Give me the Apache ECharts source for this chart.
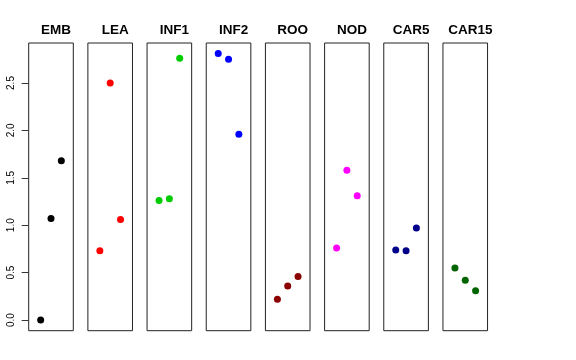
<!DOCTYPE html>
<html><head><meta charset="utf-8">
<script src="https://cdn.jsdelivr.net/npm/echarts@6/dist/echarts.min.js"></script>
<style>html,body{margin:0;padding:0;background:#fff}#c{width:576px;height:360px}</style>
</head><body><div id="c"></div>
<script>
var panels = ['EMB','LEA','INF1','INF2','ROO','NOD','CAR5','CAR15'];
var colors = ['#000000','#FF0000','#00CD00','#0000FF','#8B0000','#FF00FF','#00008B','#006400'];
var EMB = [0, 1.07, 1.68];
var LEA = [0.73, 2.50, 1.06];
var INF1 = [1.26, 1.28, 2.76];
var INF2 = [2.81, 2.75, 1.96];
var ROO = [0.22, 0.36, 0.46];
var NOD = [0.76, 1.58, 1.31];
var CAR5 = [0.74, 0.73, 0.97];
var CAR15 = [0.55, 0.42, 0.31];
var values = [EMB, LEA, INF1, INF2, ROO, NOD, CAR5, CAR15];
var yTickMin = 0, yTickMax = 2.5, yTickStep = 0.5;

var yMin = -0.1124, yMax = 2.922;
var left0 = 28.7, step = 59.18, panelW = 44.6, panelTop = 43, panelH = 287.7;
var pxPerUnit = panelH / (yMax - yMin);

var grids = [], xAxes = [], yAxes = [], series = [], titles = [];
panels.forEach(function(name, i){
  var l = left0 + step * i;
  grids.push({left: l, top: panelTop, width: panelW, height: panelH, show: true,
    borderColor: '#222', borderWidth: 1});
  xAxes.push({type: 'value', gridIndex: i, min: -0.16, max: 4.16, show: false});
  yAxes.push({type: 'value', gridIndex: i, min: yMin, max: yMax, show: false});
  series.push({type: 'scatter', xAxisIndex: i, yAxisIndex: i, symbolSize: 7,
    itemStyle: {color: colors[i], opacity: 1},
    data: values[i].map(function(v, k){ return [k + 1, v]; })});
  titles.push({text: name, left: l + panelW / 2, top: 18, textAlign: 'center',
    textStyle: {fontFamily: 'Liberation Sans, Arial, sans-serif', fontWeight: 'bold',
      fontSize: 13.5, color: '#000'}});
});
// axis-only grid aligned with the shared y scale
var axTop = panelTop + (yMax - yTickMax) * pxPerUnit;
var axH = (yTickMax - yTickMin) * pxPerUnit;
grids.push({left: left0, top: axTop, width: panelW, height: axH, show: false});
xAxes.push({type: 'value', gridIndex: 8, min: 0, max: 1, show: false});
yAxes.push({type: 'value', gridIndex: 8, min: yTickMin, max: yTickMax, interval: yTickStep,
  axisLine: {show: false}, splitLine: {show: false},
  axisTick: {show: true, length: 7, lineStyle: {color: '#333', width: 1}},
  axisLabel: {show: true, rotate: 90, margin: 12,
    fontFamily: 'Liberation Sans, Arial, sans-serif', fontSize: 10, color: '#000',
    formatter: function(v){ return v.toFixed(1); }}});

var chart = echarts.init(document.getElementById('c'), null, {renderer: 'canvas'});
chart.setOption({animation: false, backgroundColor: '#fff', title: titles,
  grid: grids, xAxis: xAxes, yAxis: yAxes, series: series});
</script></body></html>
